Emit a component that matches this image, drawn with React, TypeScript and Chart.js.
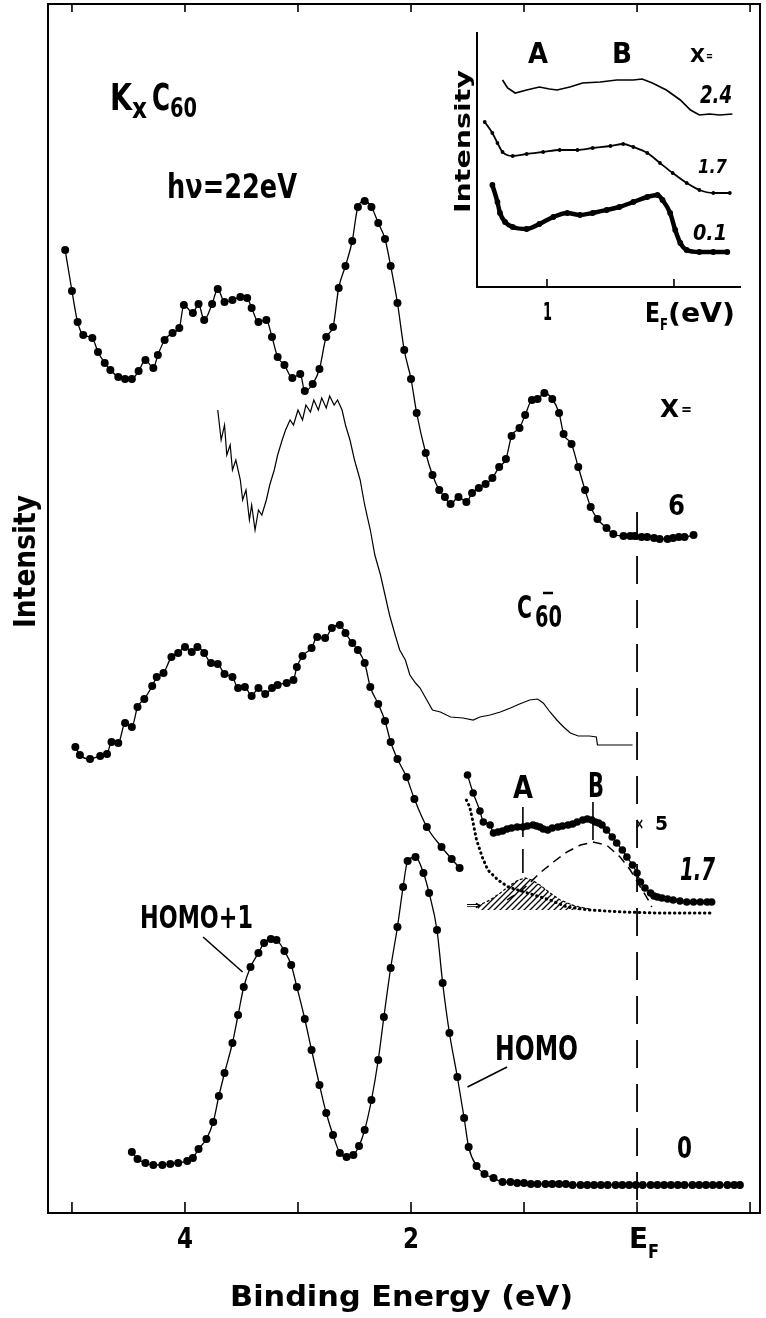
import React, { useEffect, useRef } from "react";
import { Chart, registerables } from "chart.js";

Chart.register(...registerables);

// ---------------- data (binding energy in eV, intensity in arbitrary units) ----------------
const energyTicks = [5, 4, 3, 2, 1, 0, -1];
const energyLabels = ["4", "2"];
const insetTicks = [1, 0];

const curveX6 = [
  [5.06, 963], [5.0, 922], [4.95, 891], [4.9, 878], [4.82, 875], [4.77, 861], [4.71, 850], [4.66, 843],
  [4.59, 836], [4.53, 834], [4.47, 834], [4.41, 842], [4.35, 853], [4.28, 845], [4.24, 858], [4.18, 873],
  [4.11, 880], [4.05, 885], [4.01, 908], [3.93, 900], [3.88, 909], [3.83, 893], [3.76, 909], [3.71, 924],
  [3.65, 911], [3.58, 913], [3.51, 916], [3.45, 915], [3.41, 905], [3.35, 891], [3.28, 893], [3.23, 876],
  [3.18, 856], [3.12, 848], [3.05, 835], [2.98, 839], [2.94, 822], [2.87, 829], [2.81, 844], [2.75, 876],
  [2.69, 886], [2.64, 925], [2.58, 947], [2.52, 972], [2.47, 1006], [2.41, 1012], [2.35, 1006], [2.29, 990],
  [2.23, 974], [2.18, 947], [2.12, 910], [2.06, 863], [2.0, 834], [1.95, 800], [1.87, 760], [1.81, 738],
  [1.75, 723], [1.7, 716], [1.65, 709], [1.58, 716], [1.51, 711], [1.46, 720], [1.4, 725], [1.34, 729],
  [1.28, 735], [1.22, 746], [1.16, 754], [1.11, 777], [1.04, 785], [0.99, 798], [0.93, 813], [0.88, 814],
  [0.82, 820], [0.75, 814], [0.69, 800], [0.65, 779], [0.58, 769], [0.52, 746], [0.46, 723], [0.41, 706],
  [0.35, 694], [0.27, 685], [0.21, 679], [0.12, 677], [0.06, 677], [0.02, 677], [-0.04, 676], [-0.09, 676],
  [-0.15, 675], [-0.2, 674], [-0.27, 674], [-0.32, 675], [-0.37, 676], [-0.42, 676], [-0.5, 678],
];

const curveC60Anion = [
  [3.71, 803], [3.68, 773], [3.65, 788], [3.63, 758], [3.6, 768], [3.58, 743], [3.55, 753], [3.51, 733],
  [3.49, 713], [3.46, 723], [3.43, 693], [3.41, 708], [3.38, 683], [3.35, 703], [3.32, 698], [3.28, 713],
  [3.25, 728], [3.21, 743], [3.18, 758], [3.14, 773], [3.11, 783], [3.07, 793], [3.04, 788], [3.0, 803],
  [2.96, 793], [2.93, 808], [2.89, 801], [2.86, 813], [2.82, 803], [2.79, 815], [2.75, 805], [2.72, 817],
  [2.68, 808], [2.65, 813], [2.61, 803], [2.58, 788], [2.54, 773], [2.5, 753], [2.45, 733], [2.41, 708],
  [2.36, 683], [2.32, 658], [2.27, 638], [2.23, 618], [2.19, 598], [2.14, 578], [2.1, 563], [2.05, 553],
  [2.01, 538], [1.96, 530], [1.92, 525], [1.86, 513], [1.81, 503], [1.74, 501], [1.65, 496], [1.54, 495],
  [1.45, 493], [1.39, 496], [1.3, 498], [1.21, 501], [1.12, 505], [1.04, 509], [0.95, 513], [0.88, 514],
  [0.83, 510], [0.77, 501], [0.71, 493], [0.65, 486], [0.59, 480], [0.52, 477], [0.42, 477], [0.36, 476],
  [0.35, 468], [0.04, 468],
];

const curveX17 = [
  [4.97, 466], [4.93, 458], [4.84, 454], [4.75, 457], [4.69, 459], [4.65, 471], [4.59, 470], [4.53, 490],
  [4.47, 486], [4.42, 506], [4.36, 514], [4.29, 527], [4.25, 536], [4.19, 540], [4.12, 556], [4.06, 560],
  [4.0, 566], [3.94, 561], [3.89, 566], [3.83, 560], [3.77, 550], [3.71, 549], [3.65, 539], [3.58, 536],
  [3.53, 525], [3.47, 526], [3.41, 517], [3.35, 525], [3.29, 519], [3.23, 525], [3.18, 528], [3.1, 530],
  [3.04, 533], [3.01, 546], [2.96, 557], [2.88, 565], [2.83, 576], [2.76, 575], [2.7, 585], [2.63, 588],
  [2.58, 580], [2.52, 570], [2.47, 563], [2.41, 550], [2.36, 526], [2.29, 509], [2.23, 492], [2.18, 471],
  [2.12, 454], [2.04, 436], [1.97, 414], [1.86, 386], [1.73, 366], [1.64, 354], [1.57, 345],
];

const curveX17Times5 = [
  [1.5, 438], [1.45, 420], [1.39, 402], [1.36, 391], [1.3, 388], [1.27, 380], [1.23, 381], [1.19, 382],
  [1.15, 384], [1.11, 385], [1.06, 386], [1.01, 386], [0.97, 387], [0.92, 388], [0.89, 387], [0.86, 386],
  [0.83, 384], [0.79, 383], [0.75, 385], [0.7, 386], [0.66, 387], [0.61, 388], [0.57, 389], [0.53, 391],
  [0.48, 393], [0.44, 394], [0.4, 393], [0.37, 391], [0.34, 390], [0.31, 388], [0.27, 383], [0.22, 376],
  [0.18, 370], [0.13, 363], [0.09, 356], [0.04, 348], [0.0, 340], [-0.03, 331], [-0.07, 325], [-0.12, 320],
  [-0.15, 317], [-0.18, 316], [-0.22, 315], [-0.27, 314], [-0.32, 313], [-0.38, 312], [-0.44, 311],
  [-0.5, 311], [-0.56, 311], [-0.62, 311], [-0.66, 311],
];

const backgroundX17 = [
  [1.51, 413], [1.48, 406], [1.45, 390], [1.42, 373], [1.37, 356], [1.32, 343], [1.23, 333], [1.14, 326],
  [0.97, 320], [0.77, 313], [0.62, 306], [0.42, 303], [0.12, 301], [-0.18, 300], [-0.65, 300],
];

const peakA = [
  [1.41, 307], [1.3, 313], [1.21, 320], [1.12, 328], [1.05, 333], [0.99, 335], [0.93, 333], [0.86, 328],
  [0.77, 320], [0.68, 313], [0.55, 307], [0.42, 304],
];
const peakABase = 303;

const peakB = [
  [1.15, 313], [1.11, 316], [1.04, 321], [0.95, 330], [0.86, 340], [0.74, 351], [0.62, 361], [0.5, 368],
  [0.39, 371], [0.27, 368], [0.15, 356], [0.06, 343], [-0.03, 326], [-0.1, 313], [-0.13, 306],
];

const curveX0 = [
  [4.47, 61], [4.42, 54], [4.35, 50], [4.28, 48], [4.2, 48], [4.13, 49], [4.06, 50], [3.98, 52], [3.93, 55],
  [3.88, 64], [3.81, 74], [3.75, 91], [3.7, 117], [3.65, 140], [3.58, 170], [3.53, 198], [3.48, 226],
  [3.42, 246], [3.35, 260], [3.3, 270], [3.24, 274], [3.19, 273], [3.12, 262], [3.06, 248], [3.01, 226],
  [2.94, 194], [2.88, 163], [2.81, 128], [2.75, 100], [2.69, 78], [2.63, 60], [2.57, 56], [2.51, 58],
  [2.46, 67], [2.41, 83], [2.35, 113], [2.29, 153], [2.24, 196], [2.18, 245], [2.12, 286], [2.07, 326],
  [2.03, 352], [1.96, 356], [1.89, 340], [1.84, 320], [1.77, 283], [1.72, 230], [1.66, 180], [1.59, 136],
  [1.53, 95], [1.49, 66], [1.42, 47], [1.35, 39], [1.27, 35], [1.19, 31], [1.12, 31], [1.06, 30], [1.0, 30],
  [0.94, 29], [0.88, 29], [0.81, 29], [0.75, 29], [0.69, 29], [0.63, 29], [0.57, 28], [0.5, 28], [0.44, 28],
  [0.38, 28], [0.32, 28], [0.26, 28], [0.19, 28], [0.13, 28], [0.07, 28], [0.01, 28], [-0.05, 28],
  [-0.12, 28], [-0.18, 28], [-0.24, 28], [-0.3, 28], [-0.36, 28], [-0.42, 28], [-0.49, 28], [-0.55, 28],
  [-0.61, 28], [-0.67, 28], [-0.73, 28], [-0.8, 28], [-0.86, 28], [-0.91, 28],
];

const fermiLine = [[0, 701], [0, 0]];
const markerALine = [[1.01, 406], [1.01, 340]];
const markerBLine = [[0.39, 411], [0.39, 373]];
const homo1Leader = [[3.84, 276], [3.49, 241]];
const homoLeader = [[1.15, 146], [1.5, 126]];

const insetX24 = [
  [1.35, 207], [1.31, 199], [1.25, 194], [1.16, 197], [1.06, 200], [0.98, 198], [0.92, 197], [0.82, 200],
  [0.72, 204], [0.58, 205], [0.45, 207], [0.32, 207], [0.25, 208], [0.17, 204], [0.06, 197], [-0.05, 187],
  [-0.13, 177], [-0.2, 172], [-0.28, 173], [-0.36, 172], [-0.46, 173],
];
const insetX17 = [
  [1.49, 165], [1.43, 154], [1.39, 144], [1.35, 135], [1.27, 131], [1.16, 133], [1.03, 135], [0.9, 137],
  [0.76, 137], [0.64, 139], [0.5, 141], [0.4, 143], [0.32, 140], [0.21, 134], [0.11, 124], [0.01, 114],
  [-0.1, 104], [-0.2, 97], [-0.31, 94], [-0.44, 94],
];
const insetX01 = [
  [1.43, 102], [1.39, 85], [1.37, 74], [1.33, 65], [1.27, 60], [1.16, 58], [1.06, 63], [0.95, 70],
  [0.84, 74], [0.74, 72], [0.64, 74], [0.53, 77], [0.43, 80], [0.32, 85], [0.21, 90], [0.13, 92],
  [0.09, 87], [0.03, 74], [-0.01, 57], [-0.05, 44], [-0.1, 37], [-0.2, 35], [-0.31, 35], [-0.42, 35],
];

// ---------------- helpers ----------------
const FF = '"DejaVu Sans Condensed", "Liberation Sans Narrow", "Liberation Sans", "DejaVu Sans", sans-serif';
const pts = (a: number[][]) => a.map(([x, y]) => ({ x, y }));

function fitText(ctx: CanvasRenderingContext2D, text: string, left: number, right: number, baseline: number, size: number, italic = false) {
  ctx.save();
  ctx.font = `${italic ? "italic " : ""}bold ${size}px ${FF}`;
  ctx.textAlign = "left";
  ctx.textBaseline = "alphabetic";
  const w = ctx.measureText(text).width || 1;
  ctx.translate(left, baseline);
  ctx.scale((right - left) / w, 1);
  ctx.fillStyle = "#000";
  ctx.fillText(text, 0, 0);
  ctx.restore();
}

function fitTextUp(ctx: CanvasRenderingContext2D, text: string, baselineX: number, bottomY: number, length: number, size: number) {
  ctx.save();
  ctx.translate(baselineX, bottomY);
  ctx.rotate(-Math.PI / 2);
  ctx.font = `bold ${size}px ${FF}`;
  ctx.textAlign = "left";
  ctx.textBaseline = "alphabetic";
  const w = ctx.measureText(text).width || 1;
  ctx.scale(length / w, 1);
  ctx.fillStyle = "#000";
  ctx.fillText(text, 0, 0);
  ctx.restore();
}

function seg(ctx: CanvasRenderingContext2D, x1: number, y1: number, x2: number, y2: number, w = 1.5) {
  ctx.save();
  ctx.strokeStyle = "#000";
  ctx.lineWidth = w;
  ctx.beginPath();
  ctx.moveTo(x1, y1);
  ctx.lineTo(x2, y2);
  ctx.stroke();
  ctx.restore();
}

const markerCurve = (data: number[][], r = 4) => ({
  data: pts(data),
  showLine: true,
  borderColor: "#000",
  borderWidth: 1.3,
  pointRadius: r,
  pointBackgroundColor: "#000",
  pointBorderWidth: 0,
  cubicInterpolationMode: "monotone" as const,
  fill: false,
});

const plainLine = (data: number[][], width = 1.3, dash: number[] = []) => ({
  data: pts(data),
  showLine: true,
  borderColor: "#000",
  borderWidth: width,
  borderDash: dash,
  pointRadius: 0,
  tension: 0,
  fill: false,
});

function makeHatch(ctx: CanvasRenderingContext2D) {
  const c = document.createElement("canvas");
  c.width = 6;
  c.height = 6;
  const g = c.getContext("2d")!;
  g.strokeStyle = "#000";
  g.lineWidth = 1.3;
  g.beginPath();
  g.moveTo(0, 6);
  g.lineTo(6, 0);
  g.moveTo(-1, 1);
  g.lineTo(1, -1);
  g.moveTo(5, 7);
  g.lineTo(7, 5);
  g.stroke();
  return ctx.createPattern(c, "repeat")!;
}

const hiddenTicks = { display: false };
const frameBorder = { display: true, color: "#000", width: 2 };

export default function App() {
  const mainRef = useRef<HTMLCanvasElement | null>(null);
  const insetRef = useRef<HTMLCanvasElement | null>(null);

  useEffect(() => {
    document.body.style.margin = "0";
    const mainCanvas = mainRef.current!;
    const insetCanvas = insetRef.current!;
    const mctx = mainCanvas.getContext("2d")!;
    const hatch = makeHatch(mctx);

    const mainAnnot = {
      id: "mainAnnot",
      afterDraw(chart: any) {
        const ctx: CanvasRenderingContext2D = chart.ctx;
        const xs = chart.scales.x;
        const { top, bottom } = chart.chartArea;
        for (const v of energyTicks) {
          const px = xs.getPixelForValue(v);
          seg(ctx, px, bottom, px, bottom - 11, 1.6);
          seg(ctx, px, top, px, top + 8, 1.6);
        }
        const lab = [4, 2];
        lab.forEach((v, i) => {
          const cx = xs.getPixelForValue(v);
          fitText(ctx, energyLabels[i], cx - 8, cx + 8, 1248, 29);
        });
        const c0 = xs.getPixelForValue(0);
        fitText(ctx, "E", c0 - 8, c0 + 11, 1248, 29);
        fitText(ctx, "F", c0 + 11, c0 + 22, 1258, 20);
        fitText(ctx, "Binding Energy (eV)", 230, 573, 1306, 29);
        fitTextUp(ctx, "Intensity", 35, 628, 133, 30);
        fitText(ctx, "K", 110, 132, 110, 37);
        fitText(ctx, "x", 132, 147, 118, 28);
        fitText(ctx, "C", 152, 170, 110, 37);
        fitText(ctx, "60", 170, 197, 117, 26);
        fitText(ctx, "h\u03bd=22eV", 167, 297, 198, 34);
        fitText(ctx, "X", 660, 679, 417, 25);
        fitText(ctx, "=", 681, 692, 414, 16);
        fitText(ctx, "6", 668, 685, 515, 28);
        fitText(ctx, "C", 517, 532, 618, 32);
        fitText(ctx, "60", 535, 562, 627, 30);
        seg(ctx, 543, 593, 553, 593, 2.5);
        fitText(ctx, "\u00d7", 635, 644, 829, 16);
        fitText(ctx, "5", 655, 668, 830, 19);
        fitText(ctx, "A", 513, 533, 798, 32);
        fitText(ctx, "B", 588, 604, 797, 33);
        fitText(ctx, "1.7", 680, 715, 880, 32, true);
        fitText(ctx, "HOMO+1", 140, 253, 928, 32);
        fitText(ctx, "HOMO", 495, 578, 1060, 34);
        fitText(ctx, "0", 677, 692, 1158, 30);
        fitText(ctx, "\u21d2", 466, 481, 909, 12);
      },
    };

    const main = new Chart(mainCanvas, {
      type: "scatter",
      data: {
        datasets: [
          {
            ...plainLine(peakA, 1.2, [3, 2]),
            fill: { value: peakABase },
            backgroundColor: hatch,
          } as any,
          { ...plainLine(backgroundX17, 3, [0.5, 4.5]), borderCapStyle: "round" } as any,
          plainLine(peakB, 1.5, [9, 6]),
          plainLine(fermiLine, 1.8, [28, 16]),
          plainLine(markerALine, 1.6, [30, 12]),
          plainLine(markerBLine, 1.6),
          plainLine(homo1Leader, 1.6),
          plainLine(homoLeader, 1.6),
          plainLine(curveC60Anion, 1.2),
          markerCurve(curveX6),
          markerCurve(curveX17),
          markerCurve(curveX17Times5, 3.8),
          markerCurve(curveX0),
        ],
      },
      options: {
        animation: false,
        responsive: false,
        events: [],
        layout: { padding: { left: 48, top: 4, right: 6, bottom: 105 } },
        plugins: { legend: { display: false }, tooltip: { enabled: false } },
        scales: {
          x: {
            type: "linear", position: "bottom", reverse: true, min: -1.088, max: 5.212,
            ticks: hiddenTicks, grid: { display: false, drawTicks: false }, border: frameBorder,
          },
          x2: {
            type: "linear", position: "top", reverse: true, min: -1.088, max: 5.212,
            ticks: hiddenTicks, grid: { display: false, drawTicks: false }, border: frameBorder,
          },
          y: {
            type: "linear", position: "left", min: 0, max: 1209,
            ticks: hiddenTicks, grid: { display: false, drawTicks: false }, border: frameBorder,
          },
          y2: {
            type: "linear", position: "right", min: 0, max: 1209,
            ticks: hiddenTicks, grid: { display: false, drawTicks: false }, border: frameBorder,
          },
        },
      },
      plugins: [mainAnnot],
    } as any);

    const insetAnnot = {
      id: "insetAnnot",
      afterDraw(chart: any) {
        const ctx: CanvasRenderingContext2D = chart.ctx;
        const xs = chart.scales.x;
        const { bottom } = chart.chartArea;
        for (const v of insetTicks) {
          const px = xs.getPixelForValue(v);
          seg(ctx, px, bottom, px, bottom - 8, 1.6);
        }
        const c1 = xs.getPixelForValue(1);
        fitText(ctx, "1", c1 - 4, c1 + 5, 320, 24);
        const c0 = xs.getPixelForValue(0);
        fitText(ctx, "E", c0 - 29, c0 - 14, 322, 27);
        fitText(ctx, "F", c0 - 14, c0 - 6, 330, 15);
        fitText(ctx, "(eV)", c0 - 6, c0 + 61, 322, 27);
        fitTextUp(ctx, "Intensity", 30, 213, 143, 21);
        fitText(ctx, "A", 88, 108, 63, 29);
        fitText(ctx, "B", 172, 192, 63, 29);
        fitText(ctx, "X", 250, 265, 62, 19);
        fitText(ctx, "=", 266, 273, 60, 12);
        fitText(ctx, "2.4", 260, 292, 103, 25, true);
        fitText(ctx, "1.7", 258, 287, 173, 19, true);
        fitText(ctx, "0.1", 253, 287, 240, 22, true);
      },
    };

    const inset = new Chart(insetCanvas, {
      type: "scatter",
      data: {
        datasets: [
          { ...plainLine(insetX24, 1.7), pointRadius: 0 },
          { ...markerCurve(insetX17, 1.9), borderWidth: 1.8 },
          { ...markerCurve(insetX01, 2.9), borderWidth: 4.5 },
        ],
      },
      options: {
        animation: false,
        responsive: false,
        events: [],
        layout: { padding: { left: 37, top: 33, right: 26, bottom: 53 } },
        plugins: { legend: { display: false }, tooltip: { enabled: false } },
        scales: {
          x: {
            type: "linear", position: "bottom", reverse: true, min: -0.52, max: 1.551,
            ticks: hiddenTicks, grid: { display: false, drawTicks: false }, border: frameBorder,
          },
          y: {
            type: "linear", position: "left", min: 0, max: 254,
            ticks: hiddenTicks, grid: { display: false, drawTicks: false }, border: frameBorder,
          },
        },
      },
      plugins: [insetAnnot],
    } as any);

    return () => {
      main.destroy();
      inset.destroy();
    };
  }, []);

  return (
    <div style={{ position: "absolute", left: 0, top: 0, width: 766, height: 1318, background: "#fff" }}>
      <canvas ref={mainRef} width={766} height={1318} style={{ position: "absolute", left: 0, top: 0, width: 766, height: 1318 }} />
      <canvas ref={insetRef} width={326} height={340} style={{ position: "absolute", left: 440, top: 0, width: 326, height: 340 }} />
    </div>
  );
}
